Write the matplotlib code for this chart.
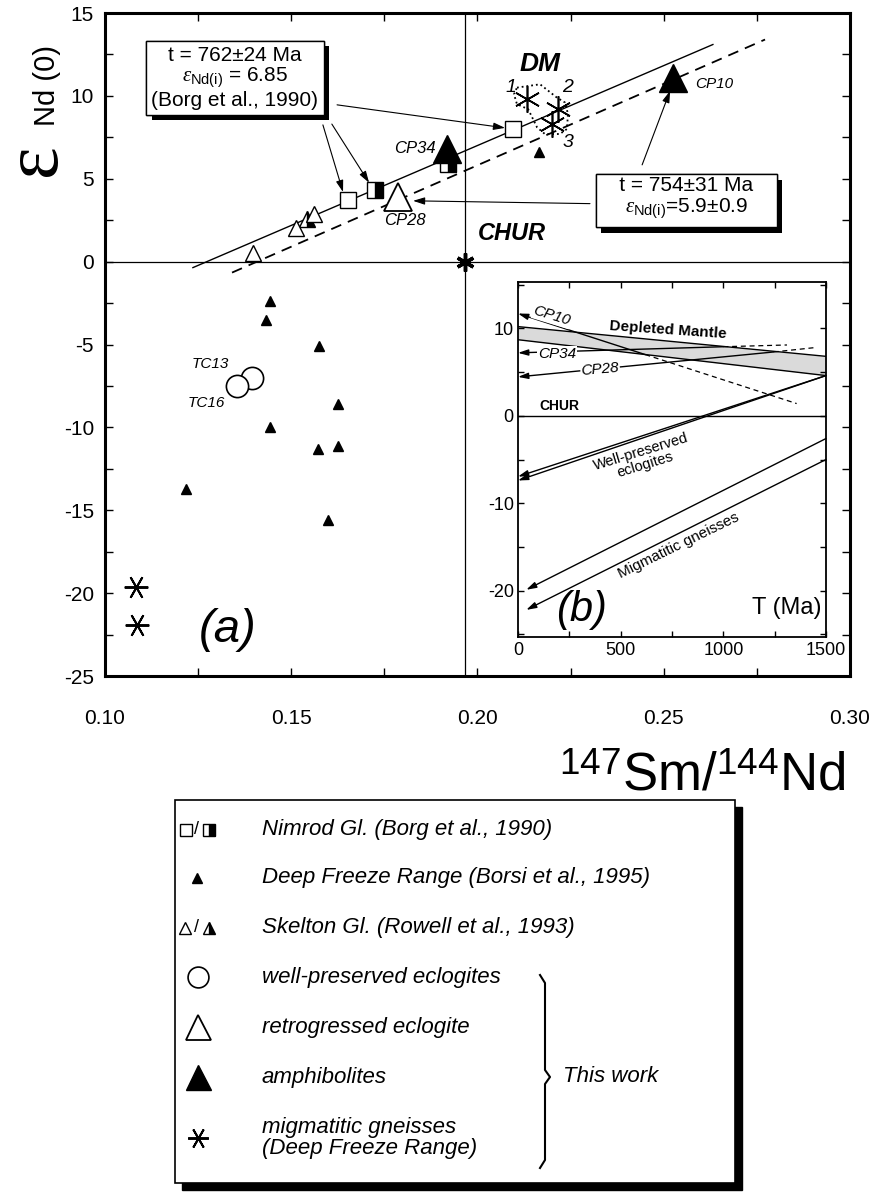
import numpy as np
import matplotlib.pyplot as plt
from matplotlib import patheffects

plt.rcParams['font.family'] = ['Liberation Sans', 'DejaVu Sans']
plt.rcParams['mathtext.fontset'] = 'custom'
plt.rcParams['mathtext.rm'] = 'Liberation Sans'
plt.rcParams['mathtext.it'] = 'Liberation Serif:italic'
plt.rcParams['axes.unicode_minus'] = False

# ---- panel (a) data : 147Sm/144Nd vs eNd(0)
nimrod_open_x = [0.1652, 0.2095]
nimrod_open_y = [3.7, 8.0]
nimrod_half_x = [0.1725, 0.1921]
nimrod_half_y = [4.3, 5.9]
dfr_x = [0.1443, 0.1432, 0.1575, 0.1625, 0.1443, 0.1572, 0.1625, 0.1217, 0.1599, 0.2165]
dfr_y = [-2.4, -3.5, -5.1, -8.6, -10.0, -11.3, -11.1, -13.7, -15.6, 6.6]
skelton_open_x = [0.1398, 0.1513, 0.1561]
skelton_open_y = [0.5, 2.0, 2.9]
skelton_half_x = [0.1542]
skelton_half_y = [2.6]
eclogite_x = [0.1394, 0.1354]      # TC13, TC16
eclogite_y = [-7.0, -7.5]
retro_x = [0.1787]                 # CP28
retro_y = [3.9]
amph_x = [0.1918, 0.2525]          # CP34, CP10
amph_y = [6.8, 11.1]
gneiss_x = [0.1083, 0.1086]
gneiss_y = [-19.6, -21.9]
dm_x = [0.2133, 0.2216, 0.2200]
dm_y = [9.8, 9.2, 8.3]
chur_x, chur_y = 0.1967, 0.0
iso762_x = [0.1236, 0.2632]
iso762_y = [-0.36, 13.1]
iso754_x = [0.1341, 0.2772]
iso754_y = [-0.66, 13.4]
dmfield_x = [0.2106, 0.2168, 0.2213, 0.2235, 0.2243, 0.2240, 0.2221, 0.2181, 0.2160, 0.2136, 0.2106, 0.2098, 0.2106]
dmfield_y = [10.5, 10.7, 9.9, 9.6, 8.9, 8.0, 7.7, 7.7, 8.1, 9.2, 9.5, 10.1, 10.5]

# ---- panel (b) data : eNd vs T (Ma)
ins_T = [0, 1500]
dm_up = [10.2, 6.8]
dm_lo = [8.7, 4.6]
cp10_T = [0, 620, 1357]
cp10_e = [11.7, 7.0, 1.4]
cp34_T = [0, 1000, 1310]
cp34_e = [7.2, 7.9, 8.1]
cp28_T = [0, 1245, 1446]
cp28_e = [4.45, 7.3, 7.8]
ecl1_e = [-6.95, 4.6]
ecl2_e = [-7.4, 4.6]
gn_T = [40, 1500]
gn1_e = [-19.9, -2.6]
gn2_e = [-22.2, -5.0]

fig = plt.figure(figsize=(8.75, 11.94), dpi=100)

# overlay in pixel coords for labels / legend
ov = fig.add_axes([0, 0, 1, 1])
ov.set_xlim(0, 875)
ov.set_ylim(1194, 0)
ov.axis('off')

ax = fig.add_axes([0.12, 0.4338, 0.8514, 0.5553])
ax.set_xlim(0.10, 0.30)
ax.set_ylim(-25, 15)
ax.axhline(0, color='k', lw=0.9, zorder=1)
ax.axvline(chur_x, color='k', lw=0.9, zorder=1)
ax.plot(iso762_x, iso762_y, '-', color='k', lw=1.0, zorder=2)
ax.plot(iso754_x, iso754_y, '--', color='k', lw=1.3, dashes=(6, 4), zorder=2)
ax.plot(dmfield_x, dmfield_y, ':', color='k', lw=1.3, zorder=2)

ax.plot(nimrod_open_x, nimrod_open_y, 's', ms=11, mfc='white', mec='k', mew=1.0, zorder=4)
ax.plot(nimrod_half_x, nimrod_half_y, 's', ms=11, fillstyle='right', mfc='k', mfcalt='white', mec='k', mew=1.0, zorder=4)
ax.plot(dfr_x, dfr_y, '^', ms=7, color='k', zorder=4)
ax.plot(skelton_open_x, skelton_open_y, '^', ms=11, mfc='white', mec='k', mew=1.0, zorder=4)
ax.plot(skelton_half_x, skelton_half_y, '^', ms=11, fillstyle='right', mfc='k', mfcalt='white', mec='k', mew=1.0, zorder=3)
ax.plot(eclogite_x, eclogite_y, 'o', ms=16, mfc='white', mec='k', mew=1.2, zorder=4)
ax.plot(retro_x, retro_y, '^', ms=20, mfc='white', mec='k', mew=1.3, zorder=4)
ax.plot(amph_x, amph_y, '^', ms=20, color='k', zorder=4)
ax.plot(gneiss_x, gneiss_y, marker=(6, 2, 90), ms=17, color='k', mew=1.4, ls='none', zorder=4)
ax.plot(dm_x, dm_y, marker=(6, 2, 0), ms=19, color='k', mew=1.2, ls='none', zorder=4)
ax.plot(chur_x, chur_y, marker=(6, 2, 0), ms=13, color='k', mew=2.5, ls='none', zorder=5)

tk = dict(ha='center', va='center', style='italic')
ax.text(0.1832, 6.8, 'CP34', fontsize=12, **tk)
ax.text(0.1805, 2.5, 'CP28', fontsize=12, **tk)
ax.text(0.2585, 10.7, 'CP10', fontsize=11, ha='left', va='center', style='italic')
ax.text(0.1282, -6.2, 'TC13', fontsize=11, **tk)
ax.text(0.1271, -8.55, 'TC16', fontsize=11, **tk)
ax.text(0.2090, 10.5, '1', fontsize=14, **tk)
ax.text(0.2242, 10.5, '2', fontsize=14, **tk)
ax.text(0.2242, 7.2, '3', fontsize=14, **tk)
ax.text(0.2168, 11.9, 'DM', fontsize=19, weight='bold', **tk)
ax.text(0.2093, 1.7, 'CHUR', fontsize=17, weight='bold', **tk)
ax.text(0.1328, -22.2, '(a)', fontsize=34, **tk)

arw = dict(arrowstyle='-|>,head_length=0.7,head_width=0.22', color='k', lw=0.8, shrinkA=0, shrinkB=0)
ax.annotate('', xy=(0.2074, 8.07), xytext=(0.1623, 9.46), arrowprops=arw)
ax.annotate('', xy=(0.1639, 4.2), xytext=(0.1585, 8.25), arrowprops=arw)
ax.annotate('', xy=(0.1709, 4.76), xytext=(0.1609, 8.3), arrowprops=arw)
ax.annotate('', xy=(0.2517, 10.3), xytext=(0.2442, 5.84), arrowprops=arw)
ax.annotate('', xy=(0.1827, 3.67), xytext=(0.2302, 3.5), arrowprops=arw)

shadow = [patheffects.withSimplePatchShadow(offset=(4, -4), shadow_rgbFace='k', alpha=1.0), patheffects.Normal()]
b1 = ax.text(0.1349, 11.1, 't = 762\u00b124 Ma\n$\\varepsilon_{\\mathrm{Nd(i)}}$ = 6.85\n(Borg et al., 1990)',
             ha='center', va='center', fontsize=15, linespacing=1.05, zorder=6,
             bbox=dict(boxstyle='square,pad=0.25', fc='white', ec='k', lw=1.0))
b1.get_bbox_patch().set_path_effects(shadow)
b2 = ax.text(0.2560, 3.8, '   t = 754\u00b131 Ma   \n$\\varepsilon_{\\mathrm{Nd(i)}}$=5.9\u00b10.9',
             ha='center', va='center', fontsize=15, linespacing=1.1, zorder=6,
             bbox=dict(boxstyle='square,pad=0.3', fc='white', ec='k', lw=1.0))
b2.get_bbox_patch().set_path_effects(shadow)

ax.set_xticks([0.10, 0.15, 0.20, 0.25, 0.30])
ax.set_xticklabels(['0.10', '0.15', '0.20', '0.25', '0.30'])
ax.set_xticks(np.arange(0.10, 0.301, 0.025), minor=True)
ax.set_yticks(np.arange(-25, 16, 5))
ax.set_yticks(np.arange(-25, 16, 2.5), minor=True)
ax.tick_params(which='both', direction='in', top=True, right=True, length=6, width=1)
ax.tick_params(axis='x', labelsize=15, pad=24)
ax.tick_params(axis='y', labelsize=15, pad=8)
for s in ax.spines.values():
    s.set_linewidth(2.2)

# ---- inset (b)
ai = fig.add_axes([0.592, 0.4665, 0.352, 0.2973])
ai.set_xlim(0, 1500)
ai.set_ylim(-25.3, 15.3)
ai.fill_between(ins_T, dm_lo, dm_up, color='#dadada', lw=0, zorder=1)
ai.plot(ins_T, dm_up, color='k', lw=1.0, zorder=2)
ai.plot(ins_T, dm_lo, color='k', lw=1.0, zorder=2)
ai.axhline(0, color='k', lw=1.0, zorder=2)
iarw = dict(arrowstyle='-|>,head_length=0.6,head_width=0.18', color='k', lw=1.0, shrinkA=0, shrinkB=0)
for T, e in [(cp10_T, cp10_e), (cp34_T, cp34_e), (cp28_T, cp28_e)]:
    ai.annotate('', xy=(T[0], e[0]), xytext=(T[1], e[1]), arrowprops=iarw, zorder=3)
    ai.plot(T[1:], e[1:], '--', color='k', lw=0.9, dashes=(4, 3), zorder=3)
for e in [ecl1_e, ecl2_e]:
    ai.annotate('', xy=(ins_T[0], e[0]), xytext=(ins_T[1], e[1]), arrowprops=iarw, zorder=3)
for e in [gn1_e, gn2_e]:
    ai.annotate('', xy=(gn_T[0], e[0]), xytext=(gn_T[1], e[1]), arrowprops=iarw, zorder=3)

wb = dict(boxstyle='square,pad=0.05', fc='white', ec='none')
ai.text(165, 11.4, 'CP10', fontsize=11, style='italic', rotation=-17, ha='center', va='center', bbox=wb, zorder=4)
ai.text(190, 7.1, 'CP34', fontsize=11, style='italic', ha='center', va='center', bbox=wb, zorder=4)
ai.text(400, 5.3, 'CP28', fontsize=11, style='italic', rotation=5, ha='center', va='center', bbox=wb, zorder=4)
ai.text(730, 9.8, 'Depleted Mantle', fontsize=11, weight='bold', rotation=-4, ha='center', va='center', zorder=4)
ai.text(200, 1.1, 'CHUR', fontsize=10, weight='bold', ha='center', va='center', zorder=4)
ai.text(610, -4.9, 'Well-preserved\neclogites', fontsize=10.5, rotation=17, ha='center', va='center',
        linespacing=0.95, zorder=4)
ai.text(780, -14.9, 'Migmatitic gneisses', fontsize=11, rotation=26, ha='center', va='center', zorder=4)
ai.text(310, -22.2, '(b)', fontsize=30, style='italic', ha='center', va='center')
ai.text(1310, -22.0, 'T (Ma)', fontsize=17, ha='center', va='center')
ai.set_xticks([0, 500, 1000, 1500])
ai.set_xticks([250, 750, 1250], minor=True)
ai.set_yticks([-20, -10, 0, 10])
ai.set_yticks([-25, -15, -5, 5, 15], minor=True)
ai.tick_params(which='both', direction='in', top=True, right=True, length=4, width=1, labelsize=13)
ai.tick_params(axis='y', pad=3)
for s in ai.spines.values():
    s.set_linewidth(1.3)

# ---- axis labels (pixel coords)
ov.text(36, 160, '\u03b5', rotation=90, fontsize=56, family='Liberation Serif', ha='center', va='center')
ov.text(47, 85, 'Nd (0)', rotation=90, fontsize=21, ha='center', va='center')
ov.text(472, 335, '\u03b5', rotation=90, fontsize=32, family='Liberation Serif', ha='center', va='center')
ov.text(484, 300, 'Nd', rotation=90, fontsize=14, ha='center', va='center')
ov.text(845, 790, '$^{147}$Sm/$^{144}$Nd', ha='right', va='baseline', fontsize=38,
        family=['Liberation Sans Narrow', 'Liberation Sans'])

# ---- legend box
ov.add_patch(plt.Rectangle((182, 807), 560, 383, fc='k', ec='k'))
ov.add_patch(plt.Rectangle((175, 800), 560, 383, fc='white', ec='k', lw=1.2))
leg_labels = ['Nimrod Gl. (Borg et al., 1990)', 'Deep Freeze Range (Borsi et al., 1995)',
              'Skelton Gl. (Rowell et al., 1993)', 'well-preserved eclogites',
              'retrogressed eclogite', 'amphibolites', 'migmatitic gneisses\n(Deep Freeze Range)']
leg_y = [830, 878, 928, 977, 1027, 1077, 1138]
for lab, y in zip(leg_labels, leg_y):
    ov.text(262, y, lab, fontsize=16, style='italic', ha='left', va='center', linespacing=1.05)
ov.plot(186, leg_y[0], 's', ms=8, mfc='white', mec='k', mew=1.0)
ov.text(197, leg_y[0], '/', fontsize=13, ha='center', va='center')
ov.plot(209, leg_y[0], 's', ms=8, fillstyle='right', mfc='k', mfcalt='white', mec='k', mew=1.0)
ov.plot(197, leg_y[1], '^', ms=7, color='k')
ov.plot(185, leg_y[2], '^', ms=9, mfc='white', mec='k', mew=1.0)
ov.text(197, leg_y[2], '/', fontsize=13, ha='center', va='center')
ov.plot(209, leg_y[2], '^', ms=9, fillstyle='right', mfc='k', mfcalt='white', mec='k', mew=1.0)
ov.plot(198, leg_y[3], 'o', ms=15, mfc='white', mec='k', mew=1.2)
ov.plot(198, leg_y[4], '^', ms=18, mfc='white', mec='k', mew=1.3)
ov.plot(198, leg_y[5], '^', ms=18, color='k')
ov.plot(198, leg_y[6], marker=(6, 2, 90), ms=15, color='k', mew=1.4)
brace_x = [540, 545, 545, 550, 545, 545, 540]
brace_y = [975, 983, 1070, 1077, 1084, 1160, 1168]
ov.plot(brace_x, brace_y, color='k', lw=1.5)
ov.text(563, 1077, 'This work', fontsize=16, style='italic', ha='left', va='center')

fig.savefig('out.png', dpi=100)
